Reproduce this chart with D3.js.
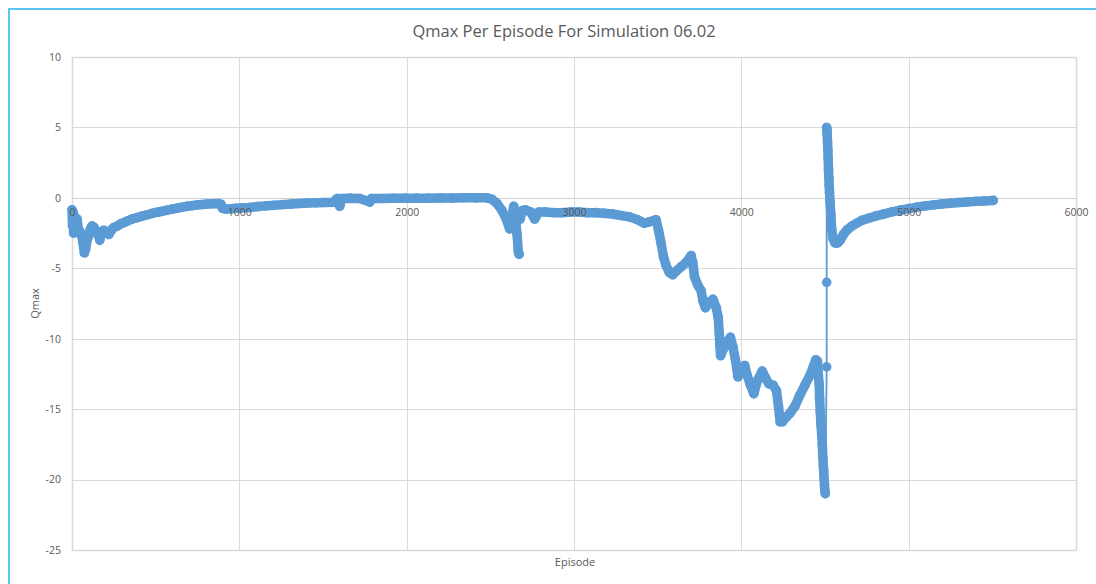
<!DOCTYPE html>
<html>
<head>
<meta charset="utf-8">
<script src="https://cdn.jsdelivr.net/npm/d3@7"></script>
<style>
  html, body { margin: 0; padding: 0; background: #ffffff; }
  svg { display: block; }
</style>
</head>
<body>
<svg id="chart" width="1096" height="584"></svg>
<script>
// Qmax recorded per training episode
const episodes = [
  0, 3, 6, 10, 15, 22, 30, 38, 48, 58, 66, 74, 82, 90, 100, 110, 120, 132, 144, 156,
  166, 176, 190, 205, 220, 235, 250, 270, 290, 310, 330, 360, 390, 420, 450, 480, 510, 540, 570, 600,
  630, 660, 690, 720, 750, 780, 810, 840, 870, 890, 900, 920, 950, 980,
  1010, 1060, 1110, 1160, 1210, 1260, 1310, 1360, 1410, 1460, 1510, 1560, 1585, 1600, 1610,
  1660, 1720, 1780, 1790, 1850, 1920, 1990, 2060, 2130, 2200, 2270, 2340, 2410, 2480,
  2510, 2540, 2570, 2595, 2615, 2630, 2640, 2650, 2660, 2667, 2672, 2678, 2690, 2710, 2740, 2765,
  2790, 2830, 2880, 2930, 2980, 3030, 3080, 3130, 3180, 3230, 3280, 3330, 3380, 3420, 3450, 3490,
  3505, 3520, 3535, 3550, 3570, 3590, 3610, 3640, 3670, 3700, 3710, 3720, 3740, 3760, 3770, 3785,
  3800, 3830, 3850, 3862, 3868, 3872, 3876, 3890, 3910, 3935, 3950, 3965, 3980, 3995, 4020, 4035,
  4055, 4075, 4095, 4125, 4145, 4165, 4190, 4210, 4222, 4232, 4245, 4265, 4290, 4320, 4350, 4380,
  4410, 4430, 4445, 4455, 4460, 4465, 4468, 4472, 4476, 4480, 4484, 4487, 4490, 4492, 4495, 4497,
  4499, 4502, 4510, 4510, 4510, 4512, 4513, 4515, 4517, 4519, 4521, 4523, 4525, 4527, 4530, 4535,
  4540, 4548, 4560, 4575, 4592, 4610, 4630, 4660, 4690, 4720, 4760, 4800, 4850, 4900, 4950, 5000,
  5050, 5100, 5150, 5200, 5250, 5300, 5350, 5400, 5450, 5505
];
const qmax = [
  -0.85, -2.0, -1.0, -2.5, -1.3, -1.8, -1.5, -2.2, -2.4, -2.7, -3.2, -3.9, -3.6, -3.0, -2.7, -2.2, -2.0, -2.1, -2.4, -2.6,
  -3.0, -2.4, -2.3, -2.4, -2.6, -2.3, -2.1, -2.0, -1.85, -1.75, -1.65, -1.5, -1.4, -1.3, -1.2, -1.1, -1.02, -0.95, -0.87, -0.8,
  -0.73, -0.66, -0.6, -0.55, -0.5, -0.47, -0.44, -0.42, -0.4, -0.45, -0.75, -0.8, -0.78, -0.74,
  -0.72, -0.68, -0.62, -0.57, -0.52, -0.48, -0.44, -0.4, -0.37, -0.35, -0.33, -0.32, -0.05, -0.6, -0.05,
  -0.02, -0.05, -0.3, -0.05, -0.05, -0.03, -0.02, -0.02, -0.02, -0.01, -0.01, 0, 0, 0,
  -0.1, -0.4, -0.9, -1.5, -2.2, -1.2, -0.6, -1.7, -2.6, -3.8, -4.0, -1.5, -0.9, -0.85, -1.0, -1.5,
  -1.0, -1.0, -1.05, -1.05, -1.0, -1.0, -1.05, -1.05, -1.1, -1.15, -1.25, -1.35, -1.55, -1.8, -1.7, -1.55,
  -2.3, -3.2, -4.2, -4.8, -5.3, -5.45, -5.2, -4.9, -4.6, -4.1, -4.6, -5.6, -6.2, -6.6, -7.3, -7.8,
  -7.5, -7.2, -7.8, -8.5, -9.6, -10.5, -11.2, -10.8, -10.3, -9.9, -10.6, -11.5, -12.7, -12.2, -11.9, -12.6,
  -13.3, -13.9, -13.0, -12.3, -12.8, -13.2, -13.3, -13.7, -14.8, -15.9, -15.9, -15.6, -15.3, -14.8, -14.0, -13.3,
  -12.6, -12.0, -11.5, -11.6, -12.5, -13.2, -14.3, -15.2, -16.1, -16.8, -17.5, -18.4, -19.0, -19.4, -20.0, -20.4,
  -20.8, -21.0, -12.0, -6.0, 5.0, 4.8, 4.5, 4.0, 3.4, 2.8, 2.0, 1.4, 0.9, 0.4, -0.3, -1.2,
  -2.2, -2.9, -3.2, -3.2, -3.0, -2.6, -2.3, -2.0, -1.8, -1.6, -1.45, -1.3, -1.15, -1.0, -0.87, -0.76,
  -0.66, -0.57, -0.5, -0.43, -0.38, -0.33, -0.29, -0.25, -0.22, -0.18
];

const xTicks = [0, 1000, 2000, 3000, 4000, 5000, 6000];
const yTicks = [-25, -20, -15, -10, -5, 0, 5, 10];

const chartTitle = "Qmax Per Episode For Simulation 06.02";
const xTitle = "Episode";
const yTitle = "Qmax";

const points = episodes.map((e, i) => ({ x: e, y: qmax[i] }));

const svg = d3.select("#chart");
const W = 1096, H = 584;
const plot = { left: 72, right: 1076, top: 57, bottom: 550 };

const seriesColor = "#5b9bd5";
const gridColor = "#d9d9d9";
const textColor = "#595959";
const font = "'Open Sans', 'Liberation Sans', sans-serif";

const x = d3.scaleLinear().domain([0, 6000]).range([plot.left, plot.right]);
const y = d3.scaleLinear().domain([-25, 10]).range([plot.bottom, plot.top]);

// chart frame
svg.append("rect").attr("width", W).attr("height", H).attr("fill", "#fff");
svg.append("path")
  .attr("d", `M9,${H} L9,9 L${W},9`)
  .attr("fill", "none")
  .attr("stroke", "#5cc6f2")
  .attr("stroke-width", 2);

// gridlines
const grid = svg.append("g");
grid.selectAll("line.v").data(xTicks).join("line")
  .attr("x1", d => Math.round(x(d)) + 0.5).attr("x2", d => Math.round(x(d)) + 0.5)
  .attr("y1", plot.top).attr("y2", plot.bottom)
  .attr("stroke", gridColor).attr("stroke-width", 1);
grid.selectAll("line.h").data(yTicks).join("line")
  .attr("x1", plot.left).attr("x2", plot.right)
  .attr("y1", d => Math.round(y(d)) + 0.5).attr("y2", d => Math.round(y(d)) + 0.5)
  .attr("stroke", gridColor).attr("stroke-width", 1);
svg.append("rect")
  .attr("x", plot.left + 0.5).attr("y", plot.top + 0.5)
  .attr("width", plot.right - plot.left).attr("height", plot.bottom - plot.top)
  .attr("fill", "none").attr("stroke", gridColor).attr("stroke-width", 1.5);
// horizontal value axis line at zero
svg.append("line")
  .attr("x1", plot.left).attr("x2", plot.right)
  .attr("y1", Math.round(y(0)) + 0.5).attr("y2", Math.round(y(0)) + 0.5)
  .attr("stroke", "#cfcfcf").attr("stroke-width", 1.2);

// series: connecting line, then the dense band of overlapping markers, then markers
const series = svg.append("g");
const line = d3.line().x(d => x(d.x)).y(d => y(d.y));
series.append("path")
  .datum(points)
  .attr("d", line)
  .attr("fill", "none")
  .attr("stroke", seriesColor)
  .attr("stroke-width", 1.8);

// where consecutive markers overlap they merge into a solid band
const band = d3.path();
let open = false;
for (let i = 1; i < points.length; i++) {
  const x0 = x(points[i - 1].x), y0 = y(points[i - 1].y);
  const x1 = x(points[i].x), y1 = y(points[i].y);
  const dist = Math.hypot(x1 - x0, y1 - y0);
  if (dist < 30) {
    if (!open) { band.moveTo(x0, y0); open = true; }
    band.lineTo(x1, y1);
  } else {
    open = false;
  }
}
series.append("path")
  .attr("d", band.toString())
  .attr("fill", "none")
  .attr("stroke", seriesColor)
  .attr("stroke-width", 9.5)
  .attr("stroke-linecap", "round")
  .attr("stroke-linejoin", "round");

series.selectAll("circle").data(points).join("circle")
  .attr("cx", d => x(d.x))
  .attr("cy", d => y(d.y))
  .attr("r", 4.8)
  .attr("fill", seriesColor);

// tick labels (plain hyphen for negatives)
const fmt = d => String(d);
const xAxis = d3.axisBottom(x).tickValues(xTicks).tickSize(0).tickPadding(0).tickFormat(fmt);
const gx = svg.append("g")
  .attr("transform", `translate(0,${y(0) + 10})`)
  .call(xAxis);
gx.select(".domain").remove();
gx.selectAll("text")
  .attr("fill", textColor)
  .attr("font-family", font)
  .attr("font-size", 10.5)
  .attr("dy", "0.32em")
  .attr("y", 5);

const yAxis = d3.axisLeft(y).tickValues(yTicks).tickSize(0).tickPadding(0).tickFormat(fmt);
const gy = svg.append("g")
  .attr("transform", `translate(${plot.left - 11},0)`)
  .call(yAxis);
gy.select(".domain").remove();
gy.selectAll("text")
  .attr("fill", textColor)
  .attr("font-family", font)
  .attr("font-size", 10.5);

// titles
svg.append("text")
  .attr("x", 564).attr("y", 37)
  .attr("text-anchor", "middle")
  .attr("fill", textColor)
  .attr("font-family", font)
  .attr("font-size", 16.5)
  .text(chartTitle);

svg.append("text")
  .attr("x", 575).attr("y", 566)
  .attr("text-anchor", "middle")
  .attr("fill", textColor)
  .attr("font-family", font)
  .attr("font-size", 11)
  .text(xTitle);

svg.append("text")
  .attr("transform", `translate(39,${(plot.top + plot.bottom) / 2}) rotate(-90)`)
  .attr("text-anchor", "middle")
  .attr("fill", textColor)
  .attr("font-family", font)
  .attr("font-size", 11)
  .text(yTitle);
</script>
</body>
</html>
